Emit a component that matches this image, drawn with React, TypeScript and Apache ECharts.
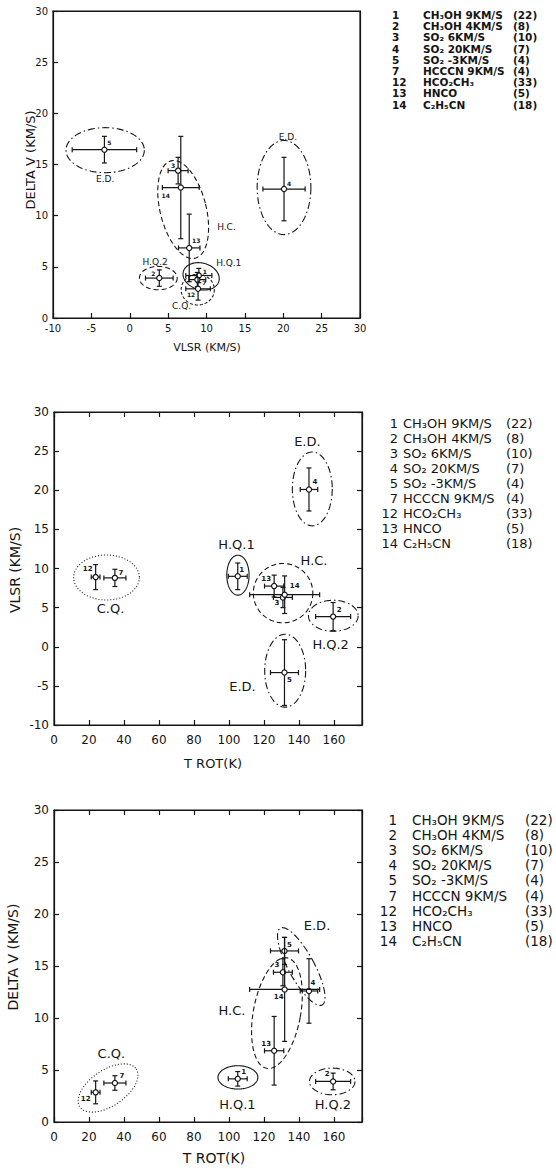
import React, { useEffect, useRef } from "react";
import * as echarts from "echarts";

// ---------- data ----------
const ids = [1, 2, 3, 4, 5, 7, 12, 13, 14];
const species = ["CH₃OH", "CH₃OH", "SO₂", "SO₂", "SO₂", "HCCCN", "HCO₂CH₃", "HNCO", "C₂H₅CN"];
const lineVelocity = ["9KM/S", "4KM/S", "6KM/S", "20KM/S", "-3KM/S", "9KM/S", "", "", ""];
const lineCounts = [22, 8, 10, 7, 4, 4, 33, 5, 18];

const tRot = [105, 159.5, 130.8, 145.7, 131.7, 34.8, 23.8, 125.8, 131.8];
const tRotErr = [5.4, 10, 5.4, 5, 8, 6.3, 2.5, 5.5, 20];
const vlsr = [9.0, 3.85, 6.3, 20.1, -3.3, 8.8, 8.9, 7.75, 6.65];
const vlsrErr = [1.7, 1.8, 1.3, 2.75, 4.2, 1.1, 1.6, 1.4, 2.4];
const deltaV = [4.15, 3.9, 14.4, 12.6, 16.45, 3.75, 2.85, 6.85, 12.75];
const deltaVErr = [0.7, 0.8, 1.3, 3.1, 1.3, 0.7, 1.1, 3.3, 5.0];

const vlsrRange = [-10, 30];
const deltaVRange = [0, 30];
const tRotRange = [0, 176];

// group outlines (data units): label, centre x, centre y, semi-x, semi-y, rotation(deg), line kind, label x, label y
type Grp = [string, number, number, number, number, number, string, number, number];
const groupsP1: Grp[] = [
  ["E.D.", -3.2, 16.4, 5.1, 2.2, 0, "dashdot", -3.2, 13.6],
  ["E.D.", 20.1, 12.75, 3.5, 4.6, 0, "dashdot", 20.6, 17.7],
  ["H.C.", 6.96, 10.6, 3.0, 4.9, -14, "dashed", 12.6, 8.85],
  ["H.Q.1", 9.3, 4.07, 2.4, 1.3, 15, "solid", 12.9, 5.37],
  ["H.Q.2", 3.72, 3.9, 2.46, 1.14, 0, "dashed", 3.3, 5.43],
  ["C.Q.", 8.86, 2.77, 2.16, 1.5, 0, "shortdash", 6.75, 1.2],
];
const groupsP2: Grp[] = [
  ["E.D.", 147.6, 20.17, 11.4, 4.72, 0, "dashdot", 144.8, 26.2],
  ["E.D.", 132.1, -3.06, 11.7, 4.66, 0, "dashdot", 107.7, -5.1],
  ["H.Q.1", 105.1, 9.15, 6.37, 2.55, 0, "solid", 104.3, 13.1],
  ["H.C.", 130.9, 6.85, 17, 3.79, 0, "dashed", 148.6, 11.06],
  ["H.Q.2", 159.6, 3.96, 14.2, 1.98, 0, "dashdot", 158.1, 0.34],
  ["C.Q.", 30, 8.85, 18.8, 2.87, 0, "dotted", 32.3, 4.9],
];
const groupsP3: Grp[] = [
  ["C.Q.", 30.9, 3.27, 19.4, 1.73, -34, "dotted", 32.8, 6.63],
  ["H.Q.1", 105.1, 4.29, 11.4, 1.12, 0, "solid", 104.8, 1.73],
  ["H.Q.2", 159, 3.9, 13, 1.28, 0, "dashdot", 159.4, 1.73],
  ["H.C.", 127.4, 10.47, 13.5, 5.4, 10.5, "dashed", 101.7, 10.73],
  ["E.D.", 141.3, 14.95, 7.4, 4.2, -28.5, "dashdot", 150.3, 18.86],
];

// ---------- layout / styles ----------
const FONT = "DejaVu Sans";
const INK = "#151515";
const dashes: Record<string, number[] | null> = {
  solid: null,
  dashed: [5, 3],
  dashdot: [7, 3, 1.5, 3],
  dotted: [1, 2],
  shortdash: [3, 2],
};

const labelOffsets: Record<number, [number, number]>[] = [
  { 1: [6, -4], 2: [-6, -5], 3: [-5, -5], 4: [5, -6], 5: [5, -7], 7: [7, 3], 12: [-7, 6], 13: [7, -7], 14: [-15, 8] },
  { 1: [4, -6], 2: [6, -7], 3: [-6, 6], 4: [6, -7], 5: [5, 7], 7: [6, -5], 12: [-8, -8], 13: [-8, -7], 14: [10, -9] },
  { 1: [6, -7], 2: [-6, -7], 3: [-6, -7], 4: [4, -8], 5: [5, -6], 7: [7, -7], 12: [-10, 7], 13: [-8, -7], 14: [-6, 8] },
];

const grids = [
  { left: 53, top: 11, width: 307, height: 307 },
  { left: 54, top: 412, width: 308, height: 313 },
  { left: 54, top: 810, width: 308, height: 312 },
];

function ellipseSeries(gi: number, groups: Grp[], fontSize: number) {
  return {
    type: "custom",
    xAxisIndex: gi * 2,
    yAxisIndex: gi * 2,
    silent: true,
    clip: false,
    data: groups.map((g) => [g[1], g[2]]),
    renderItem: (params: any, api: any) => {
      const g = groups[params.dataIndex];
      const c = api.coord([g[1], g[2]]);
      const sx = Math.abs(api.size([g[3], 0])[0]);
      const sy = Math.abs(api.size([0, g[4]])[1]);
      const th = (g[5] * Math.PI) / 180;
      const pts: number[][] = [];
      const N = 120;
      for (let i = 0; i < N; i++) {
        const t = (i / N) * 2 * Math.PI;
        const ex = sx * Math.cos(t);
        const ey = sy * Math.sin(t);
        pts.push([c[0] + ex * Math.cos(th) - ey * Math.sin(th), c[1] + ex * Math.sin(th) + ey * Math.cos(th)]);
      }
      const lp = api.coord([g[7], g[8]]);
      return {
        type: "group",
        children: [
          {
            type: "polygon",
            shape: { points: pts },
            style: { fill: "none", stroke: INK, lineWidth: 1.1, lineDash: dashes[g[6]] || undefined },
          },
          {
            type: "text",
            x: lp[0],
            y: lp[1],
            style: {
              text: g[0],
              fontSize,
              fontFamily: FONT,
              fill: INK,
              align: "center",
              verticalAlign: "middle",
              textAlign: "center",
              textVerticalAlign: "middle",
            },
          },
        ],
      };
    },
  };
}

function pointSeries(gi: number, xs: number[], xe: number[], ys: number[], ye: number[], fontSize: number) {
  const offs = labelOffsets[gi];
  return {
    type: "custom",
    xAxisIndex: gi * 2,
    yAxisIndex: gi * 2,
    silent: true,
    clip: false,
    data: ids.map((id, i) => [xs[i], ys[i], xe[i], ye[i], id]),
    renderItem: (params: any, api: any) => {
      const x = api.value(0);
      const y = api.value(1);
      const dx = api.value(2);
      const dy = api.value(3);
      const id = ids[params.dataIndex];
      const c = api.coord([x, y]);
      const l = api.coord([x - dx, y]);
      const r = api.coord([x + dx, y]);
      const t = api.coord([x, y + dy]);
      const b = api.coord([x, y - dy]);
      const cap = 2.5;
      const ls = { stroke: INK, lineWidth: 1.2 };
      const ln = (x1: number, y1: number, x2: number, y2: number) => ({
        type: "line",
        shape: { x1, y1, x2, y2 },
        style: ls,
      });
      const o = offs[id] || [5, -5];
      return {
        type: "group",
        children: [
          ln(l[0], l[1], r[0], r[1]),
          ln(t[0], t[1], b[0], b[1]),
          ln(l[0], l[1] - cap, l[0], l[1] + cap),
          ln(r[0], r[1] - cap, r[0], r[1] + cap),
          ln(t[0] - cap, t[1], t[0] + cap, t[1]),
          ln(b[0] - cap, b[1], b[0] + cap, b[1]),
          {
            type: "circle",
            shape: { cx: c[0], cy: c[1], r: 2.6 },
            style: { fill: "#fff", stroke: INK, lineWidth: 1.2 },
          },
          {
            type: "text",
            x: c[0] + o[0],
            y: c[1] + o[1],
            style: {
              text: String(id),
              fontSize,
              fontWeight: "bold",
              fontFamily: FONT,
              fill: INK,
              align: "center",
              verticalAlign: "middle",
              textAlign: "center",
              textVerticalAlign: "middle",
            },
          },
        ],
      };
    },
  };
}

function axisPair(gi: number, dir: "x" | "y", range: number[], interval: number, fontSize: number, margin: number, ticksAll: boolean, labelMax: number) {
  const common = {
    gridIndex: gi,
    type: "value",
    min: range[0],
    max: range[1],
    interval,
    splitLine: { show: false },
    axisLine: { show: true, onZero: false, lineStyle: { color: INK, width: 1.2 } },
  };
  const main = {
    ...common,
    position: dir === "x" ? "bottom" : "left",
    axisTick: { show: true, inside: true, length: 5, lineStyle: { color: INK, width: 1.2 } },
    axisLabel: {
      show: true,
      fontSize,
      fontFamily: FONT,
      color: INK,
      margin,
      formatter: (v: number) => (v <= labelMax && v % interval === 0 ? String(v) : ""),
    },
  };
  const second = {
    ...common,
    position: dir === "x" ? "top" : "right",
    axisTick: { show: ticksAll, inside: true, length: 5, lineStyle: { color: INK, width: 1.2 } },
    axisLabel: { show: false },
  };
  return [main, second];
}

function legendTexts(rowsTop: number, step: number, idX: number, idAlign: string, nameX: number, countX: number, fontSize: number, weight: string) {
  const els: any[] = [];
  ids.forEach((id, i) => {
    const y = rowsTop + i * step;
    const base = { fontSize, fontFamily: FONT, fontWeight: weight, fill: INK, verticalAlign: "middle", textVerticalAlign: "middle" };
    els.push({ type: "text", x: idX, y, style: { ...base, text: String(id), align: idAlign, textAlign: idAlign } });
    const nm = lineVelocity[i] ? `${species[i]} ${lineVelocity[i]}` : species[i];
    els.push({ type: "text", x: nameX, y, style: { ...base, text: nm, align: "left", textAlign: "left" } });
    els.push({ type: "text", x: countX, y, style: { ...base, text: `(${lineCounts[i]})`, align: "left", textAlign: "left" } });
  });
  return els;
}

function title(text: string, x: number, y: number, fontSize: number, vertical: boolean) {
  return {
    type: "text",
    x,
    y,
    rotation: vertical ? Math.PI / 2 : 0,
    style: {
      text,
      fontSize,
      fontFamily: FONT,
      fill: INK,
      align: "center",
      verticalAlign: "middle",
      textAlign: "center",
      textVerticalAlign: "middle",
    },
  };
}

export default function App() {
  const ref = useRef<HTMLDivElement>(null);
  useEffect(() => {
    if (!ref.current) return;
    const chart = echarts.init(ref.current, undefined, { renderer: "svg" });
    const x1 = axisPair(0, "x", vlsrRange, 5, 10, 5, false, 30);
    const y1 = axisPair(0, "y", deltaVRange, 5, 10, 5, false, 30);
    const x2 = axisPair(1, "x", tRotRange, 20, 12, 9, true, 160);
    const y2 = axisPair(1, "y", vlsrRange, 5, 12, 5, true, 30);
    const x3 = axisPair(2, "x", tRotRange, 20, 12, 9, true, 160);
    const y3 = axisPair(2, "y", deltaVRange, 5, 12, 5, true, 30);
    const option: any = {
      animation: false,
      backgroundColor: "#fff",
      textStyle: { fontFamily: FONT },
      grid: grids.map((g) => ({ ...g, show: true, borderColor: INK, borderWidth: 1.2, backgroundColor: "transparent" })),
      xAxis: [...x1, ...x2, ...x3],
      yAxis: [...y1, ...y2, ...y3],
      series: [
        ellipseSeries(0, groupsP1, 9),
        pointSeries(0, vlsr, vlsrErr, deltaV, deltaVErr, 6),
        ellipseSeries(1, groupsP2, 13),
        pointSeries(1, tRot, tRotErr, vlsr, vlsrErr, 7),
        ellipseSeries(2, groupsP3, 13),
        pointSeries(2, tRot, tRotErr, deltaV, deltaVErr, 7),
      ],
      graphic: [
        title("DELTA V (KM/S)", 30, 160, 13, true),
        title("VLSR (KM/S)", 207, 347, 11, false),
        title("VLSR (KM/S)", 15, 570, 14, true),
        title("T ROT(K)", 213, 763, 13, false),
        title("DELTA V (KM/S)", 13, 957, 14, true),
        title("T ROT(K)", 214, 1158, 14, false),
        ...legendTexts(15, 11.2, 392, "left", 423, 513, 10.5, "bold"),
        ...legendTexts(423, 15, 398, "right", 403, 506, 13, "normal"),
        ...legendTexts(820, 15.1, 397, "right", 412, 525, 13.5, "normal"),
      ],
    };
    chart.setOption(option);
    return () => chart.dispose();
  }, []);
  return (
    <div
      ref={ref}
      style={{ position: "absolute", left: 0, top: 0, width: 556, height: 1169, background: "#fff" }}
    />
  );
}
